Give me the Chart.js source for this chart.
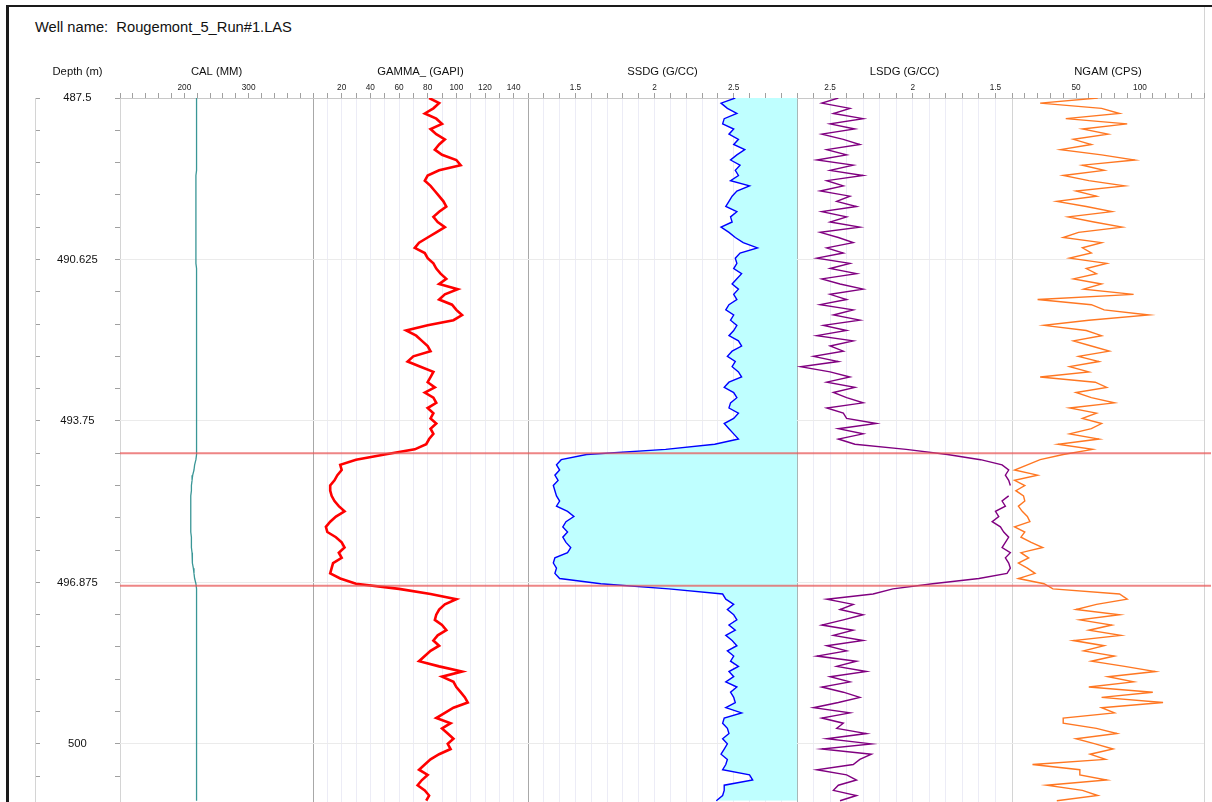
<!DOCTYPE html>
<html>
<head>
<meta charset="utf-8">
<title>Well log</title>
<script src="https://cdn.jsdelivr.net/npm/chart.js@4.4.1/dist/chart.umd.min.js"></script>
<style>
  body { margin: 0; background: #fff; }
  #page { position: relative; width: 1212px; height: 802px; overflow: hidden; font-family: Arial, "Liberation Sans", sans-serif; }
  #frame { position: absolute; left: 6px; top: 5px; width: 1230px; height: 830px; border-left: 3px solid #1a1a1a; border-top: 2px solid #1a1a1a; }
  #rightEdge { position: absolute; left: 1204px; top: 7px; width: 0; height: 800px; border-left: 1px solid #d4d4d4; }
  #wellName { position: absolute; left: 35px; top: 19px; font-size: 14.7px; color: #111; white-space: pre; }
  canvas { position: absolute; top: 60px; }
</style>
</head>
<body>
<div id="page">
  <div id="frame"></div>
  <div id="rightEdge"></div>
  <div id="wellName">Well name:  Rougemont_5_Run#1.LAS</div>
  <canvas id="depthTrack" width="130" height="742" style="left:0px"></canvas>
  <canvas id="calTrack" width="194" height="742" style="left:120px"></canvas>
  <canvas id="gammaTrack" width="216" height="742" style="left:313px"></canvas>
  <canvas id="ssdgTrack" width="270" height="742" style="left:528px"></canvas>
  <canvas id="lsdgTrack" width="216" height="742" style="left:797px"></canvas>
  <canvas id="ngamTrack" width="200" height="742" style="left:1012px"></canvas>
</div>
<script>
// depth range of the plot (m), samples every 0.1 m
const depthTop = 487.5;
const depthBottom = 501.125;
const depthStep = 0.1;
const depthMajor = 3.125;
const depthMinor = 0.625;

// formation tops drawn as red lines
const markerDepths = [494.375, 496.94];

// CAL (MM)
const cal = [
  219, 219, 219, 219, 219, 219, 219, 219, 219, 219,
  219, 219, 219, 219, 219, 218, 218, 218, 218, 218,
  218, 218, 218, 218, 218, 218, 218, 218, 218, 218,
  218, 218, 218, 219, 219, 219, 219, 219, 219, 219,
  219, 219, 219, 219, 219, 219, 219, 219, 219, 219,
  219, 219, 219, 219, 219, 219, 219, 219, 219, 219,
  219, 219, 219, 219, 219, 219, 219, 219, 219, 219,
  218, 216, 215, 213, 212, 211, 211, 210, 210, 210,
  210, 210, 210, 210, 210, 211, 211, 211, 212, 212,
  213, 214, 215, 216, 218, 219, 219, 219, 219, 219,
  219, 219, 219, 219, 219, 219, 219, 219, 219, 219,
  219, 219, 219, 219, 219, 219, 219, 219, 219, 219,
  219, 219, 219, 219, 219, 219, 219, 219, 219, 219,
  219, 219, 219, 219, 219, 219, 219
];

// GAMMA_ (GAPI)
const gamma = [
  81, 88, 84, 78, 86, 90, 82, 86, 92, 88,
  85, 90, 100, 103, 88, 80, 78, 82, 85, 88,
  91, 93, 88, 84, 87, 92, 86, 80, 74, 71,
  78, 80, 84, 86, 89, 93, 88, 101, 92, 88,
  97, 100, 104, 98, 80, 65, 72, 76, 80, 82,
  70, 66, 75, 84, 82, 80, 85, 78, 84, 86,
  80, 84, 82, 86, 82, 84, 81, 79, 71, 50,
  30, 19, 20, 17, 15, 12, 12, 13, 15, 18,
  22, 16, 12, 9, 10, 16, 20, 22, 18, 20,
  14, 13, 12, 19, 30, 60, 82, 100, 92, 88,
  86, 85, 90, 93, 87, 84, 88, 82, 78, 74,
  88, 104, 90, 98, 100, 103, 106, 108, 98, 92,
  86, 96, 90, 94, 98, 94, 96, 88, 82, 78,
  74, 80, 76, 73, 78, 81, 79
];

// SSDG (G/CC)
const ssdg = [
  2.51, 2.42, 2.46, 2.52, 2.44, 2.43, 2.50, 2.47, 2.53, 2.50,
  2.57, 2.52, 2.48, 2.54, 2.51, 2.53, 2.48, 2.60, 2.52, 2.49,
  2.47, 2.45, 2.52, 2.48, 2.49, 2.42, 2.47, 2.51, 2.56, 2.65,
  2.54, 2.51, 2.52, 2.50, 2.55, 2.52, 2.49, 2.53, 2.50, 2.52,
  2.47, 2.45, 2.50, 2.48, 2.52, 2.50, 2.47, 2.53, 2.55, 2.49,
  2.46, 2.51, 2.49, 2.53, 2.55, 2.47, 2.44, 2.50, 2.52, 2.48,
  2.47, 2.53, 2.50, 2.44, 2.47, 2.50, 2.53, 2.38, 2.07, 1.57,
  1.41, 1.38, 1.40, 1.37, 1.39, 1.36, 1.37, 1.38, 1.40, 1.38,
  1.45, 1.49, 1.44, 1.42, 1.45, 1.42, 1.44, 1.47, 1.45, 1.37,
  1.36, 1.38, 1.37, 1.40, 1.66, 2.09, 2.43, 2.45, 2.50, 2.46,
  2.50, 2.52, 2.47, 2.51, 2.45, 2.49, 2.52, 2.46, 2.50, 2.48,
  2.53, 2.47, 2.50, 2.45, 2.52, 2.48, 2.50, 2.51, 2.45, 2.55,
  2.44, 2.43, 2.46, 2.47, 2.43, 2.46, 2.44, 2.42, 2.46, 2.45,
  2.43, 2.60, 2.62, 2.44, 2.44, 2.43, 2.39
];

// LSDG (G/CC), null = no reading
const lsdg = [
  2.45, 2.55, 2.38, 2.48, 2.30, 2.50, 2.35, 2.55, 2.42, 2.32,
  2.52, 2.40, 2.58, 2.36, 2.50, 2.30, 2.52, 2.42, 2.56, 2.38,
  2.46, 2.34, 2.55, 2.40, 2.50, 2.32, 2.56, 2.45, 2.36, 2.52,
  2.42, 2.58, 2.38, 2.50, 2.34, 2.55, 2.44, 2.30, 2.50, 2.40,
  2.56, 2.36, 2.48, 2.32, 2.54, 2.40, 2.58, 2.36, 2.50, 2.42,
  2.60, 2.45, 2.68, 2.50, 2.38, 2.52, 2.35, 2.48, 2.40, 2.30,
  2.52, 2.42, 2.40, 2.22, 2.45, 2.30, 2.45, 2.35, 2.04, 1.79,
  1.59, 1.46, 1.42, 1.44, 1.42, 1.41, null, 1.42, 1.46, 1.44,
  1.50, 1.48, 1.52, 1.47, 1.45, 1.42, 1.44, 1.46, 1.41, 1.44,
  1.42, 1.41, 1.43, 1.60, 1.88, 2.12, 2.24, 2.52, 2.36, 2.44,
  2.30, 2.42, 2.55, 2.36, 2.48, 2.30, 2.52, 2.40, 2.58, 2.34,
  2.46, 2.28, 2.50, 2.38, 2.55, 2.42, 2.32, 2.45, 2.60, 2.38,
  2.55, 2.42, 2.46, 2.28, 2.52, 2.25, 2.55, 2.25, 2.32, 2.36,
  2.58, 2.40, 2.34, 2.45, 2.48, 2.34, 2.44
];

// NGAM (CPS)
const ngam = [
  67, 22, 70, 84, 42, 90, 55, 75, 48, 62,
  38, 70, 96, 55, 72, 40, 60, 88, 50, 66,
  35, 58, 78, 44, 64, 86, 52, 40, 70, 55,
  62, 45, 74, 58, 66, 48, 70, 56, 95, 20,
  62, 72, 107, 60, 25, 58, 70, 48, 62, 76,
  52, 68, 45, 60, 22, 65, 74, 50, 62, 80,
  45, 66, 55, 70, 62, 45, 68, 36, 63, 40,
  22, 12, 2, 20, 2, 10, 3, 9, 10, 5,
  8, 12, 14, 2, 10, 7, 15, 24, 7, 13,
  5, 12, 18, 5, 25, 32, 84, 90, 66, 50,
  84, 53, 78, 60, 85, 48, 72, 56, 80, 62,
  88, 112, 75, 95, 60, 110, 70, 118, 70, 80,
  40, 40, 66, 82, 50, 65, 79, 61, 73, 16,
  53, 53, 74, 27, 55, 67, 35
];

const depths = gamma.map((_, i) => Math.round((depthTop + i * depthStep) * 100) / 100);

Chart.defaults.font.family = 'Arial, "Liberation Sans", sans-serif';
Chart.defaults.color = '#111';

const markerColor = 'rgba(232, 86, 86, 0.72)';
const titleFont = { size: 11.25 };
const tickFont = { size: 8.25 };

const near = (a, b) => Math.abs(a - b) < 1e-6;
const onStep = (v, every) => near(v / every, Math.round(v / every));
const isMajorDepth = v => onStep(v - depthTop, depthMajor);

// keep axis boxes from adding label overflow padding to the layout
function fixBox(s, w, h) {
  if (w !== undefined) s.width = w;
  if (h !== undefined) s.height = h;
  s.paddingTop = 0;
  s.paddingBottom = 0;
  s.paddingLeft = 0;
  s.paddingRight = 0;
}

function drawTrack(canvasId, t) {
  const extra = t.overhang || 0;
  const datasets = markerDepths.map(d => ({
    data: [{ x: t.min, y: d }, { x: t.markerEnd !== undefined ? t.markerEnd : t.max, y: d }],
    borderColor: markerColor,
    borderWidth: 2,
    pointRadius: 0,
    clip: { left: 0, top: 2, right: extra, bottom: 2 },
    order: 0
  }));
  datasets.push({
    data: depths.map((d, i) => ({ x: t.values[i], y: d })),
    borderColor: t.color,
    borderWidth: t.width,
    pointRadius: 0,
    fill: t.fill ? { value: t.max } : false,
    backgroundColor: t.fill || 'transparent',
    order: 1
  });

  return new Chart(document.getElementById(canvasId), {
    type: 'line',
    data: { datasets },
    options: {
      indexAxis: 'y',
      responsive: false,
      animation: false,
      events: [],
      layout: { padding: { right: 1 + extra }, autoPadding: false },
      plugins: { legend: { display: false }, tooltip: { enabled: false } },
      scales: {
        x: {
          type: 'linear',
          position: 'top',
          min: t.min,
          max: t.max,
          reverse: !!t.reverse,
          afterFit: s => fixBox(s, undefined, 38),
          ticks: {
            stepSize: t.step,
            autoSkip: false,
            maxRotation: 0,
            padding: 0,
            font: tickFont,
            color: '#222',
            callback: v => (onStep(v, t.labelEvery) && !near(v, t.min) && !near(v, t.max))
              ? String(Math.round(v * 10) / 10) : ''
          },
          grid: {
            tickLength: 5,
            tickColor: '#a0a0a0',
            color: ctx => {
              const v = ctx.tick ? ctx.tick.value : NaN;
              if (near(v, t.min)) return t.minEdge;
              if (near(v, t.max)) return t.maxEdge;
              return t.grid || 'rgba(0,0,0,0)';
            }
          },
          border: { display: true, color: '#c8c8c8' },
          title: { display: true, text: t.title, font: titleFont, color: '#111', padding: { top: 5, bottom: 0 } }
        },
        y: {
          type: 'linear',
          min: depthTop,
          max: depthBottom,
          reverse: true,
          afterFit: s => fixBox(s, 0),
          ticks: { display: false, stepSize: depthMinor, autoSkip: false },
          grid: {
            drawTicks: false,
            color: ctx => (ctx.tick && isMajorDepth(ctx.tick.value) && !near(ctx.tick.value, depthTop))
              ? '#ebebeb' : 'rgba(0,0,0,0)'
          },
          border: { display: false }
        }
      }
    }
  });
}

// depth track: labels and inward ticks on both sides
new Chart(document.getElementById('depthTrack'), {
  type: 'line',
  data: { datasets: [] },
  options: {
    responsive: false,
    animation: false,
    events: [],
    layout: { padding: { left: 35, right: 10 }, autoPadding: false },
    plugins: { legend: { display: false }, tooltip: { enabled: false } },
    scales: {
      x: {
        type: 'linear',
        position: 'top',
        min: 0,
        max: 1,
        afterFit: s => fixBox(s, undefined, 38),
        ticks: { display: false },
        grid: { display: false },
        border: { display: false },
        title: { display: true, text: 'Depth (m)', font: titleFont, color: '#111', padding: { top: 5, bottom: 0 } }
      },
      yL: {
        axis: 'y',
        type: 'linear',
        position: 'left',
        min: depthTop,
        max: depthBottom,
        reverse: true,
        afterFit: s => fixBox(s, 0),
        ticks: {
          stepSize: depthMinor,
          autoSkip: false,
          mirror: true,
          crossAlign: 'center',
          padding: 22,
          font: { size: 11.25 },
          color: '#111',
          callback: v => isMajorDepth(v) ? String(v) : ''
        },
        grid: { drawOnChartArea: false, tickLength: -5, tickColor: '#a0a0a0' },
        border: { color: '#d4d4d4' }
      },
      yR: {
        axis: 'y',
        type: 'linear',
        position: 'right',
        min: depthTop,
        max: depthBottom,
        reverse: true,
        afterFit: s => fixBox(s, 0),
        ticks: { display: false, stepSize: depthMinor, autoSkip: false },
        grid: { drawOnChartArea: false, tickLength: -5, tickColor: '#a0a0a0' },
        border: { color: '#d4d4d4' }
      }
    }
  }
});

drawTrack('calTrack', {
  title: 'CAL (MM)', values: cal, min: 100, max: 400, step: 20, labelEvery: 100,
  color: '#3a9696', width: 1.3, minEdge: '#d4d4d4', maxEdge: '#a8a8a8'
});

drawTrack('gammaTrack', {
  title: 'GAMMA_ (GAPI)', values: gamma, min: 0, max: 150, step: 10, labelEvery: 20,
  color: '#ff0000', width: 2.6, grid: '#ececf6', minEdge: '#a8a8a8', maxEdge: '#a8a8a8'
});

drawTrack('ssdgTrack', {
  title: 'SSDG (G/CC)', values: ssdg, min: 1.2, max: 2.9, step: 0.1, labelEvery: 0.5,
  color: '#0000ff', width: 1.4, fill: '#bfffff', grid: '#ececf6', minEdge: '#a8a8a8', maxEdge: '#a8b8b8'
});

drawTrack('lsdgTrack', {
  title: 'LSDG (G/CC)', values: lsdg, min: 1.4, max: 2.7, step: 0.1, labelEvery: 0.5, reverse: true,
  color: '#800080', width: 1.4, grid: '#ececf6', minEdge: '#d4d4d4', maxEdge: '#a8b8b8'
});

// the red marker lines run on past the last track border
drawTrack('ngamTrack', {
  title: 'NGAM (CPS)', values: ngam, min: 0, max: 150, step: 10, labelEvery: 50,
  color: '#ff7722', width: 1.4, minEdge: '#d4d4d4', maxEdge: '#d4d4d4',
  overhang: 7, markerEnd: 160
});
</script>
</body>
</html>
